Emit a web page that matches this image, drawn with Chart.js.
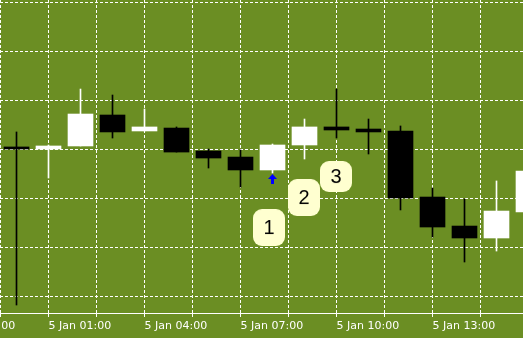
<!DOCTYPE html>
<html>
<head>
<meta charset="utf-8">
<script src="https://cdn.jsdelivr.net/npm/chart.js@4.4.1/dist/chart.umd.min.js"></script>
<style>
  html, body { margin: 0; padding: 0; background: #6b8e23; overflow: hidden; }
  #wrap { width: 523px; height: 338px; position: relative; }
</style>
</head>
<body>
<div id="wrap"><canvas id="chart"></canvas></div>
<script>
// Velas horarias de 5 Jan, 00:00 ate 16:00 (a ultima sai cortada na borda)
const hours = ['00:00', '01:00', '02:00', '03:00', '04:00', '05:00', '06:00', '07:00', '08:00',
               '09:00', '10:00', '11:00', '12:00', '13:00', '14:00', '15:00', '16:00'];
const opens  = [1.32526, 1.32505, 1.32536, 1.32852, 1.32689, 1.32719, 1.32485, 1.32423, 1.32291,
                1.32546, 1.32730, 1.32709, 1.32689, 1.32015, 1.31719, 1.31597, 1.31862];
const highs  = [1.32679, 1.32546, 1.33117, 1.33056, 1.32913, 1.32730, 1.32505, 1.32495, 1.32556,
                1.32811, 1.33117, 1.32811, 1.32740, 1.32107, 1.31995, 1.32179, 1.32342];
const lows   = [1.30913, 1.32209, 1.32536, 1.32617, 1.32689, 1.32474, 1.32311, 1.32117, 1.32260,
                1.32403, 1.32617, 1.32454, 1.31883, 1.31607, 1.31352, 1.31464, 1.31832];
const closes = [1.32505, 1.32536, 1.32862, 1.32679, 1.32730, 1.32474, 1.32413, 1.32291, 1.32546,
                1.32730, 1.32699, 1.32679, 1.32005, 1.31709, 1.31597, 1.31872, 1.32281];

// rotulos do eixo do tempo (posicao em numero de velas a partir de 00:00)
const axisLabelPos = [-2, 1, 4, 7, 10, 13];
const axisLabels = ['4 Jan 22:00', '5 Jan 01:00', '5 Jan 04:00', '5 Jan 07:00', '5 Jan 10:00', '5 Jan 13:00'];

// seta de compra e as etiquetas 1, 2, 3
const arrowX = [8];
const arrowY = [1.32199];
const noteText = ['1', '2', '3'];
const noteX = [7.890625, 8.984375, 9.984375];
const noteY = [1.31704, 1.32010, 1.32224];

// limites visiveis do grafico
const xMin = -0.515625, xMax = 15.828125;
const yMin = 1.3083163, yMax = 1.3402551;
const priceGrid = [1.310, 1.315, 1.320, 1.325, 1.330, 1.335, 1.340];

const UP = '#ffffff';
const DOWN = '#000000';

const candleColors = opens.map((o, i) => closes[i] >= o ? UP : DOWN);

// grade vertical a cada hora e meia
const timeGrid = [];
for (let v = -2; v <= 15; v += 1.5) timeGrid.push(v);

function makeArrow() {
    const c = document.createElement('canvas');
    c.width = 9; c.height = 10;
    const g = c.getContext('2d');
    g.fillStyle = '#0000ff';
    g.beginPath();
    g.moveTo(4.5, 0); g.lineTo(9, 5); g.lineTo(0, 5); g.closePath();
    g.fill();
    g.fillRect(3, 5, 3, 5);
    return c;
}

function makeNote(text, h) {
    const w = 32, r = 9;
    const c = document.createElement('canvas');
    c.width = w; c.height = h;
    const g = c.getContext('2d');
    g.fillStyle = '#ffffd0';
    g.beginPath();
    g.roundRect(0, 0, w, h, r);
    g.fill();
    g.fillStyle = '#000000';
    g.font = '20px "Liberation Sans", Arial, sans-serif';
    g.textAlign = 'center';
    g.textBaseline = 'middle';
    g.fillText(text, w / 2, h / 2 + 1);
    return c;
}

const noteHeights = [37, 37, 31];
const noteImages = noteText.map((t, i) => makeNote(t, noteHeights[i]));

new Chart(document.getElementById('chart'), {
    type: 'bar',
    data: {
        datasets: [
            {
                type: 'scatter',
                data: noteX.map((x, i) => ({ x, y: noteY[i] })),
                pointStyle: noteImages,
                pointRadius: 10,
                order: 0
            },
            {
                type: 'scatter',
                data: arrowX.map((x, i) => ({ x, y: arrowY[i] })),
                pointStyle: makeArrow(),
                pointRadius: 5,
                order: 0
            },
            {
                label: 'corpo',
                data: hours.map((h, i) => ({ x: i, y: [opens[i], closes[i]] })),
                backgroundColor: candleColors,
                barThickness: 25,
                grouped: false,
                order: 1
            },
            {
                label: 'pavio',
                data: hours.map((h, i) => ({ x: i, y: [lows[i], highs[i]] })),
                backgroundColor: candleColors,
                barThickness: 1,
                grouped: false,
                order: 2
            }
        ]
    },
    options: {
        responsive: true,
        maintainAspectRatio: false,
        animation: false,
        events: [],
        layout: { autoPadding: false, padding: { left: 0, right: 0, top: 0, bottom: 3 } },
        plugins: {
            legend: { display: false },
            tooltip: { enabled: false }
        },
        scales: {
            x: {
                type: 'linear',
                min: xMin,
                max: xMax,
                offset: false,
                afterBuildTicks: (scale) => {
                    scale.ticks = timeGrid.map(v => ({ value: v }));
                },
                afterFit: (scale) => {
                    scale.paddingLeft = 0;
                    scale.paddingRight = 0;
                },
                ticks: {
                    autoSkip: false,
                    maxRotation: 0,
                    minRotation: 0,
                    align: 'start',
                    padding: 3,
                    color: '#ffffff',
                    font: { family: '"DejaVu Sans", sans-serif', size: 11, lineHeight: '12px' },
                    callback: (value) => {
                        const k = axisLabelPos.indexOf(value);
                        return k >= 0 ? axisLabels[k] : '';
                    }
                },
                grid: {
                    offset: false,
                    color: '#ffffff',
                    lineWidth: 1,
                    drawTicks: true,
                    tickLength: 4,
                    tickColor: '#ffffff',
                    tickBorderDash: []
                },
                border: { display: true, color: '#ffffff', width: 1, dash: [3, 2] }
            },
            y: {
                type: 'linear',
                min: yMin,
                max: yMax,
                afterBuildTicks: (scale) => {
                    scale.ticks = priceGrid.map(v => ({ value: v }));
                },
                ticks: { display: false },
                grid: {
                    color: '#ffffff',
                    lineWidth: 1,
                    drawTicks: false
                },
                border: { display: false, dash: [3, 2] }
            }
        }
    }
});
</script>
</body>
</html>
